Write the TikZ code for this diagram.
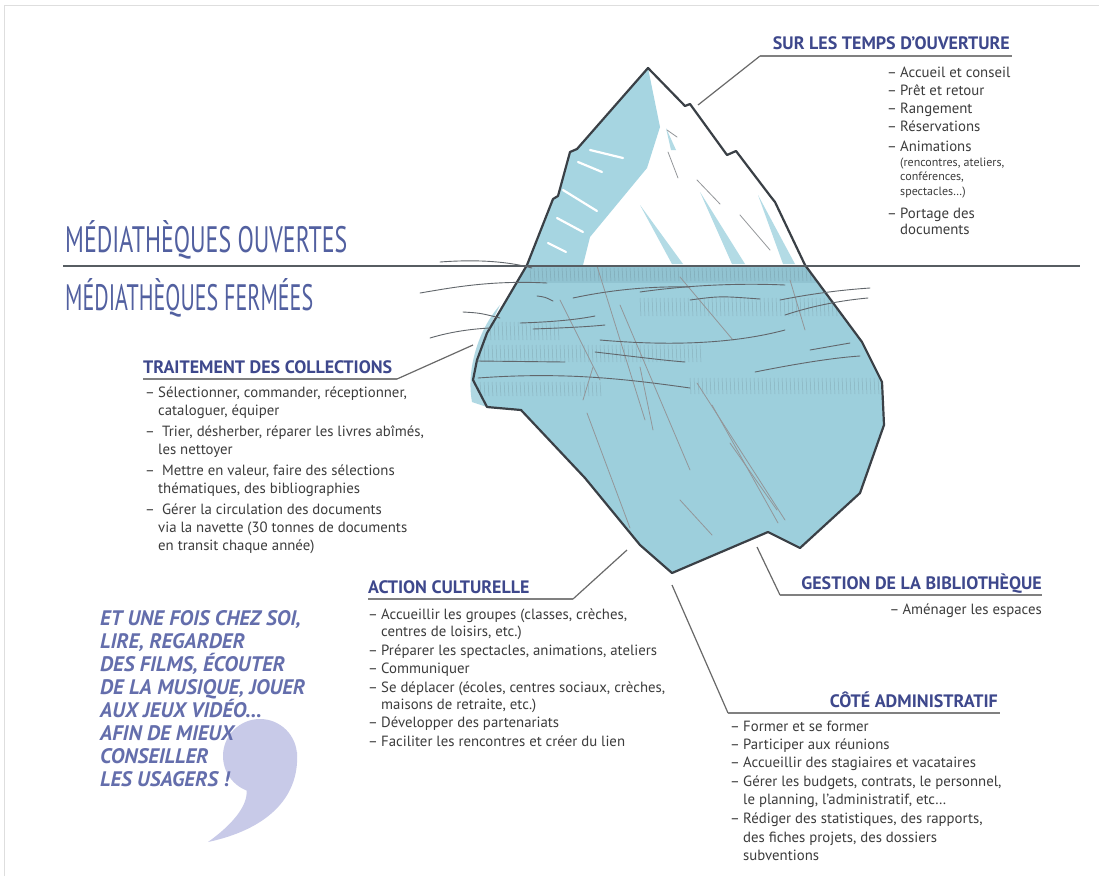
\documentclass[tikz,border=0pt]{standalone}
\usepackage{graphicx}
\usepackage{fontspec}
\setmainfont{PT Sans}
\usetikzlibrary{calc}

\definecolor{headblue}{RGB}{62,72,140}
\definecolor{titleblue}{RGB}{82,96,160}
\definecolor{quoteblue}{RGB}{100,110,172}
\definecolor{commalav}{RGB}{200,202,232}
\definecolor{bodytext}{RGB}{60,60,60}
\definecolor{linegrey}{RGB}{105,105,105}
\definecolor{iceblue}{RGB}{157,207,220}
\definecolor{icedeep}{RGB}{138,188,202}
\definecolor{iceface}{RGB}{166,213,225}
\definecolor{iceline}{RGB}{58,64,70}
\definecolor{framegrey}{RGB}{222,222,222}

\newcommand{\dashitem}{\makebox[13pt][l]{–}}

\begin{document}
\begin{tikzpicture}[x=1pt,y=-1pt,
  body/.style={font=\fontsize{14.8}{17}\selectfont, text=bodytext, inner sep=0pt, anchor=base west},
  smallbody/.style={font=\fontsize{12}{14}\selectfont, text=bodytext, inner sep=0pt, anchor=base west},
  heading/.style={font=\bfseries\fontsize{18}{20}\selectfont, text=headblue, inner sep=0pt},
  quoteline/.style={font=\bfseries\itshape\fontsize{21}{23}\selectfont, text=quoteblue, inner sep=0pt, anchor=base west},
  bigtitle/.style={text=titleblue, inner sep=0pt, anchor=base west},
  conn/.style={draw=linegrey, line width=1.2pt},
  uline/.style={draw=linegrey!85, line width=1.8pt},
  ripple/.style={draw=iceline!80, line width=0.9pt, line cap=round},
  inner/.style={draw=iceline!55, line width=0.8pt, line cap=round},
  hatch/.style={draw=iceline, opacity=0.2, line width=0.5pt},
  whitestreak/.style={draw=white, line width=2.2pt, line cap=round},
  bluestreak/.style={fill=iceface, opacity=0.85}
]
\useasboundingbox (0,0) rectangle (1099,876);
\fill[white] (0,0) rectangle (1099,876);

% thin page frame
\draw[framegrey, line width=1pt] (4,876) -- (4,5) -- (1099,5);

% large quotation comma behind the closing text
\fill[commalav] (260,756) circle (37);
\fill[commalav] (297,752) .. controls (300,800) and (264,830) .. (208,842)
  .. controls (236,822) and (250,802) .. (246,787) -- cycle;

% ---------- the iceberg ----------
\def\iceoutline{(648,68) -- (685,106) -- (690,104) -- (727,155) -- (736,151) -- (771,197) -- (775,202) -- (805,265) -- (862,342) -- (882,382) -- (884,425) -- (860,493) -- (800,548) -- (768,532) -- (672,573) -- (640,545) -- (585,478) -- (521,410) -- (487,407) -- (473,380) -- (477,360) -- (487,333) -- (527,265) -- (553,199) -- (558,196) -- (570,152) -- (577,149) -- cycle}

% soft blue spilling past the submerged left flank
\fill[iceblue, opacity=0.8] (500,305) .. controls (478,330) and (466,370) .. (472,402) -- (487,407) -- (473,380) -- (477,360) -- (487,333) -- cycle;

\fill[white] \iceoutline;
\begin{scope}
  \clip \iceoutline;
  % submerged part
  \fill[iceblue] (400,265) rectangle (900,600);
  \fill[icedeep, opacity=0.6] (400,266) rectangle (900,283);
  % shaded left face above the water
  \fill[iceface] (648,68) -- (660,127) -- (647,168) -- (590,237) -- (583,265) -- (500,265) -- (500,60) -- cycle;
  \draw[whitestreak] (590,150) -- (623,158);
  \draw[whitestreak] (578,162) -- (602,172);
  \draw[whitestreak] (563,190) -- (597,211);
  \draw[whitestreak] (557,218) -- (583,232);
  \draw[whitestreak] (548,243) -- (566,252);
  % light blue streaks on the sunny face
  \fill[bluestreak] (640,205) -- (683,264) -- (672,264) -- cycle;
  \fill[bluestreak] (700,192) -- (745,264) -- (732,264) -- cycle;
  \fill[bluestreak] (758,195) -- (795,264) -- (783,264) -- cycle;
  \fill[bluestreak] (666,128) -- (676,150) -- (671,150) -- cycle;
  \draw[inner] (667,130) -- (677,137);
  \draw[inner] (668,152) -- (678,178);
  \draw[inner] (697,180) -- (720,204);
  \draw[inner] (740,215) -- (770,250);
  % hatching under the surface
  \foreach \x in {530,534,...,830} \draw[hatch] (\x,268) -- (\x+1,281);
  \foreach \x in {640,644,...,870} \draw[hatch] (\x,298) -- (\x+1,316);
  \foreach \x in {478,482,...,560} \draw[hatch] (\x,322) -- (\x+1,340);
  \foreach \x in {480,484,...,700} \draw[hatch] (\x,345) -- (\x+1,362);
  \foreach \x in {690,694,...,880} \draw[hatch] (\x,378) -- (\x+1,394);
  \foreach \x in {480,484,...,600} \draw[hatch] (\x,382) -- (\x+1,396);
  % fracture lines
  \draw[inner] (597,266) -- (645,420);
  \draw[inner] (680,277) -- (733,340);
  \draw[inner] (587,413) -- (630,528);
  \draw[inner] (697,383) -- (785,520);
  \draw[inner] (712,405) -- (778,523);
  \draw[inner] (730,443) -- (777,510);
  \draw[inner] (680,500) -- (712,535);
  \draw[inner] (640,367) -- (653,430);
  \draw[inner] (593,367) -- (583,400);
  \draw[inner] (560,300) -- (600,380);
  \draw[inner] (620,305) -- (690,470);
  \draw[inner] (790,280) -- (805,330);
\end{scope}
\draw[iceline, line width=2.2pt, line join=round] \iceoutline;

% water surface
\coordinate (wL) at (63,266);
\coordinate (wR) at (1080,266);
\draw[iceline!85, line width=1.5pt] (wL) -- (wR);

% ripples across the surface
\draw[ripple] (440,262) .. controls (480,259) and (510,262) .. (532,268);
\draw[ripple] (420,293) .. controls (450,288) and (490,280) .. (547,283);
\draw[ripple] (537,296) .. controls (545,297) .. (553,301);
\draw[ripple] (573,298) .. controls (610,290) and (650,286) .. (690,287);
\draw[ripple] (463,312) .. controls (480,313) .. (500,318);
\draw[ripple] (520,323) .. controls (550,322) and (575,320) .. (595,316);
\draw[ripple] (430,338) .. controls (450,332) and (470,329) .. (490,328);
\draw[ripple] (533,329) .. controls (560,328) and (585,327) .. (605,325);
\draw[ripple] (477,361) -- (565,362);
\draw[ripple] (478,378) .. controls (560,372) and (620,378) .. (690,388);
\draw[ripple] (595,352) .. controls (630,356) and (660,360) .. (685,362);
\draw[ripple] (640,292) .. controls (690,285) and (740,283) .. (785,285);
\draw[ripple] (600,340) .. controls (680,347) and (740,342) .. (785,330);
\draw[ripple] (780,300) .. controls (810,294) and (840,290) .. (870,288);
\draw[ripple] (785,315) .. controls (815,305) and (845,300) .. (868,298);
\draw[ripple] (755,372) .. controls (790,365) and (830,358) .. (860,356);
\draw[ripple] (810,350) -- (850,343);
\draw[ripple] (690,300) .. controls (720,296) .. (760,299);

% ---------- titles ----------
\node[bigtitle] (ouvertes) at (65,252) {\resizebox{282pt}{32pt}{MÉDIATHÈQUES OUVERTES}};
\node[bigtitle] (fermees) at (65,310) {\resizebox{248pt}{32pt}{MÉDIATHÈQUES FERMÉES}};

% ---------- opening hours ----------
\node[heading, anchor=base east] (hA) at (1010,49) {SUR LES TEMPS D’OUVERTURE};
\coordinate (aEnd) at (698,105);
\coordinate (aU1) at (760,56);
\coordinate (aU2) at (1012,56);
\draw[conn] (aEnd) -- (aU1);
\draw[uline] (aU1) -- (aU2);
\node[body] (a1) at (887,77) {\dashitem Accueil et conseil};
\node[body] (a2) at (887,95) {\dashitem Prêt et retour};
\node[body] (a3) at (887,113) {\dashitem Rangement};
\node[body] (a4) at (887,131) {\dashitem Réservations};
\node[body] (a5) at (887,151) {\dashitem Animations};
\node[smallbody] (a5b) at (900,166) {(rencontres, ateliers,};
\node[smallbody] (a5c) at (900,180) {conférences,};
\node[smallbody] (a5d) at (900,195) {spectacles…)};
\node[body] (a6) at (887,218) {\dashitem Portage des};
\node[body] (a6b) at (900,234) {documents};

% ---------- collections ----------
\node[heading, anchor=base west] (hT) at (143,373) {TRAITEMENT DES COLLECTIONS};
\coordinate (tEnd) at (473,345);
\coordinate (tU2) at (397,379);
\coordinate (tU1) at (143,379);
\draw[conn] (tEnd) -- (tU2);
\draw[uline] (tU2) -- (tU1);
\node[body] (t1) at (145,397) {\dashitem Sélectionner, commander, réceptionner,};
\node[body] (t1b) at (158,415) {cataloguer, équiper};
\node[body] (t2) at (145,436) {\dashitem\ Trier, désherber, réparer les livres abîmés,};
\node[body] (t2b) at (158,454) {les nettoyer};
\node[body] (t3) at (145,475) {\dashitem\ Mettre en valeur, faire des sélections};
\node[body] (t3b) at (158,493) {thématiques, des bibliographies};
\node[body] (t4) at (145,514) {\dashitem\ Gérer la circulation des documents};
\node[body] (t4b) at (158,532) {via la navette (30 tonnes de documents};
\node[body] (t4c) at (158,550) {en transit chaque année)};

% ---------- cultural action ----------
\node[heading, anchor=base west] (hAc) at (368,593) {ACTION CULTURELLE};
\coordinate (acEnd) at (627,550);
\coordinate (acU2) at (573,599);
\coordinate (acU1) at (368,599);
\draw[conn] (acEnd) -- (acU2);
\draw[uline] (acU2) -- (acU1);
\node[body] (c1) at (368,619) {\dashitem Accueillir les groupes (classes, crèches,};
\node[body] (c1b) at (381,636) {centres de loisirs, etc.)};
\node[body] (c2) at (368,655) {\dashitem Préparer les spectacles, animations, ateliers};
\node[body] (c3) at (368,673) {\dashitem Communiquer};
\node[body] (c4) at (368,692) {\dashitem Se déplacer (écoles, centres sociaux, crèches,};
\node[body] (c4b) at (381,709) {maisons de retraite, etc.)};
\node[body] (c5) at (368,727) {\dashitem Développer des partenariats};
\node[body] (c6) at (368,746) {\dashitem Faciliter les rencontres et créer du lien};

% ---------- library management ----------
\node[heading, anchor=base east] (hG) at (1042,589) {GESTION DE LA BIBLIOTHÈQUE};
\coordinate (gEnd) at (757,547);
\coordinate (gU1) at (780,595);
\coordinate (gU2) at (1042,595);
\draw[conn] (gEnd) -- (gU1);
\draw[uline] (gU1) -- (gU2);
\node[body, anchor=base east] (g1) at (1042,614) {\dashitem Aménager les espaces};

% ---------- administration ----------
\node[heading, anchor=base east] (hC) at (998,707) {CÔTÉ ADMINISTRATIF};
\coordinate (cEnd) at (672,585);
\coordinate (cU1) at (728,713);
\coordinate (cU2) at (1000,713);
\draw[conn] (cEnd) -- (cU1);
\draw[uline] (cU1) -- (cU2);
\node[body] (d1) at (730,731) {\dashitem Former et se former};
\node[body] (d2) at (730,749) {\dashitem Participer aux réunions};
\node[body] (d3) at (730,767) {\dashitem Accueillir des stagiaires et vacataires};
\node[body] (d4) at (730,786) {\dashitem Gérer les budgets, contrats, le personnel,};
\node[body] (d4b) at (743,804) {le planning, l’administratif, etc…};
\node[body] (d5) at (730,823) {\dashitem Rédiger des statistiques, des rapports,};
\node[body] (d5b) at (743,842) {des fiches projets, des dossiers};
\node[body] (d5c) at (743,860) {subventions};

% ---------- closing words ----------
\node[quoteline] (q1) at (100,625) {ET UNE FOIS CHEZ SOI,};
\node[quoteline] (q2) at (100,648) {LIRE, REGARDER};
\node[quoteline] (q3) at (100,671) {DES FILMS, ÉCOUTER};
\node[quoteline] (q4) at (100,694) {DE LA MUSIQUE, JOUER};
\node[quoteline] (q5) at (100,717) {AUX JEUX VIDÉO…};
\node[quoteline] (q6) at (100,740) {AFIN DE MIEUX};
\node[quoteline] (q7) at (100,763) {CONSEILLER};
\node[quoteline] (q8) at (100,786) {LES USAGERS !};
\end{tikzpicture}
\end{document}
